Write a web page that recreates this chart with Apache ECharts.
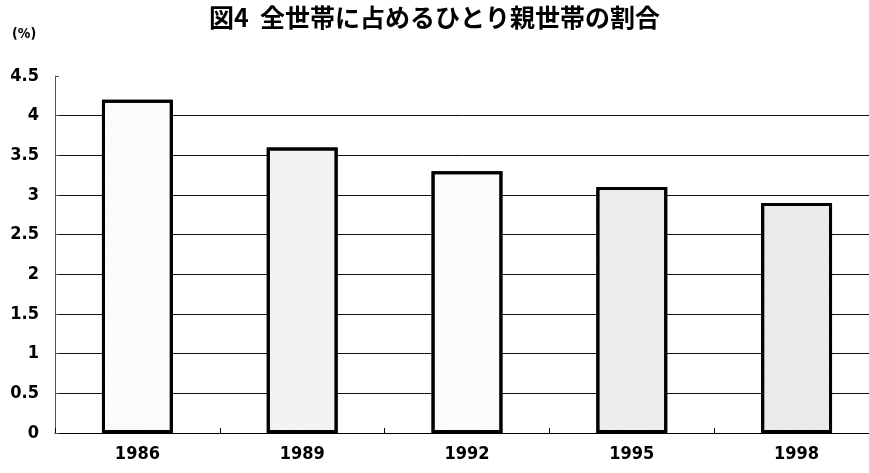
<!DOCTYPE html>
<html>
<head>
<meta charset="utf-8">
<script src="https://cdn.jsdelivr.net/npm/echarts@6/dist/echarts.min.js"></script>
<style>
  html, body { margin: 0; padding: 0; background: #fff; }
  #chart { width: 869px; height: 473px; }
</style>
</head>
<body>
<div id="chart"></div>
<script>
// 年次とひとり親世帯の割合(%)
const years = ['1986', '1989', '1992', '1995', '1998'];
const shares = [4.2, 3.6, 3.3, 3.1, 2.9];
// 棒ごとの網掛けの濃さ
const fills = ['#fbfbfb', '#f3f3f3', '#fcfcfc', '#ededed', '#ebebeb'];

const numFont = '"DejaVu Sans Condensed", "Liberation Sans Narrow", "Liberation Sans", Arial, sans-serif';
const cjkFont = '"Noto Sans CJK JP", sans-serif';

const chart = echarts.init(document.getElementById('chart'), null, {renderer: 'canvas'});

// 網点模様
const dots = {
  symbol: 'rect',
  symbolSize: 0.35,
  color: 'rgba(0,0,0,0.35)',
  dashArrayX: [1, 5],
  dashArrayY: [1, 6],
  rotation: 0.4,
};

const option = {
  animation: false,
  backgroundColor: '#fff',
  aria: {enabled: true, decal: {show: true}},
  title: {
    text: '図4  全世帯に占めるひとり親世帯の割合',
    left: 'center',
    top: 0,
    textStyle: {fontFamily: cjkFont, fontSize: 25, fontWeight: 'bold', color: '#000'},
  },
  graphic: [
    {
      type: 'text',
      left: 12,
      top: 27,
      style: {text: '(%)', font: 'bold 14px ' + numFont, fill: '#000'},
    },
  ],
  grid: {left: 55, right: -10, top: 76, bottom: 40, outerBoundsMode: 'none', containLabel: false},
  xAxis: {
    type: 'category',
    data: years,
    axisLine: {lineStyle: {color: '#000', width: 1}},
    axisTick: {show: true, inside: true, length: 5, lineStyle: {color: '#000'}},
    axisLabel: {
      margin: 12,
      fontFamily: numFont,
      fontSize: 18,
      fontWeight: 'bold',
      color: '#000',
    },
  },
  yAxis: {
    type: 'value',
    min: 0,
    max: 4.5,
    interval: 0.5,
    axisLine: {show: true, lineStyle: {color: '#555', width: 1}},
    axisTick: {show: true, inside: true, length: 4, lineStyle: {color: '#555'}},
    axisLabel: {
      margin: 16,
      fontFamily: numFont,
      fontSize: 18,
      fontWeight: 'bold',
      color: '#000',
    },
    splitLine: {
      show: true,
      showMaxLine: false,
      lineStyle: {color: '#111', width: 1},
    },
  },
  series: [
    {
      type: 'bar',
      barWidth: '43%',
      data: shares.map((v, i) => ({
        value: v,
        itemStyle: {color: fills[i], decal: dots},
      })),
      itemStyle: {
        borderColor: '#000',
        borderWidth: 3,
        decal: dots,
      },
    },
  ],
};

chart.setOption(option);
</script>
</body>
</html>
